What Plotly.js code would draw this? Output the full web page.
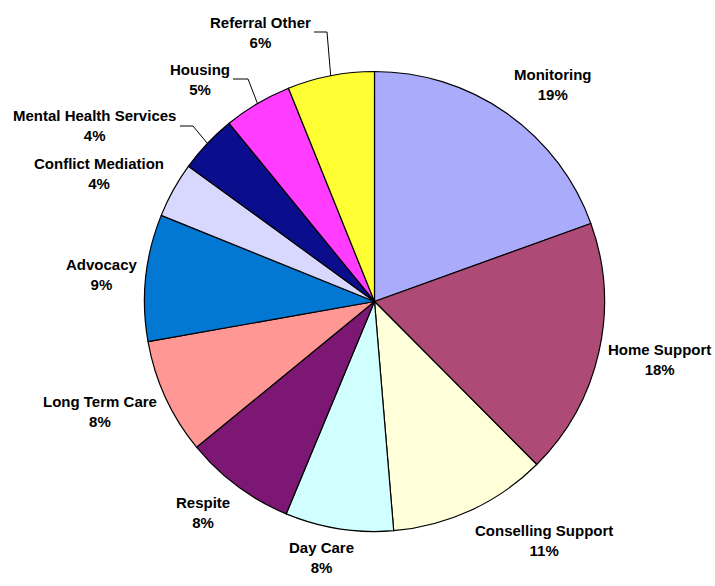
<!DOCTYPE html>
<html>
<head>
<meta charset="utf-8">
<script src="https://cdn.plot.ly/plotly-3.0.1.min.js"></script>
<style>html,body{margin:0;padding:0;background:#fff;}#chart{width:715px;height:586px;}</style>
</head>
<body>
<div id="chart"></div>
<script>
// ---- data ----
const categories = ["Monitoring", "Home Support", "Conselling Support", "Day Care", "Respite",
  "Long Term Care", "Advocacy", "Conflict Mediation", "Mental Health Services", "Housing", "Referral Other"];
const shares = [19.49, 18.05, 11.13, 7.6, 7.81, 8.13, 8.9, 3.9, 4.1, 4.79, 6.1];

// ---- styles / layout ----
const colors = ["#AAACFB", "#AE4A76", "#FFFFD9", "#D1FFFF", "#7C1774", "#FF9895",
  "#0278D3", "#D8D8FF", "#0B0E8C", "#FF3CFF", "#FFFF33"];
const W = 715, H = 586;
const cx = 374.5, cy = 301.5, R = 230;
// label centres in pixels
const labelPos = [[552, 84], [659, 359], [544, 540], [321, 557], [203, 512], [100, 411],
  [102, 274], [99, 173], [94, 126], [200, 79], [260, 33]];
// leader lines: [index, startX, elbowX, y]
const leaders = [[10, 314, 327, 32], [9, 233, 248, 79], [8, 180, 193, 126]];

const px = x => x / W, py = y => 1 - y / H;
const total = shares.reduce((a, b) => a + b, 0);

const trace = {
  type: "pie",
  labels: categories,
  values: shares,
  sort: false,
  direction: "clockwise",
  rotation: 0,
  marker: { colors: colors, line: { color: "#000", width: 1.2 } },
  textinfo: "none",
  hoverinfo: "label+percent",
  domain: { x: [px(cx - R), px(cx + R)], y: [py(cy + R), py(cy - R)] },
  showlegend: false
};

const annotations = categories.map((c, i) => ({
  xref: "paper", yref: "paper",
  x: px(labelPos[i][0]), y: py(labelPos[i][1]),
  xanchor: "center", yanchor: "middle", align: "center",
  showarrow: false,
  text: "<b>" + c + "<br>" + Math.round(shares[i] / total * 100) + "%</b>",
  font: { family: "Liberation Sans, Arial, sans-serif", size: 15, color: "#000" }
}));

// cumulative mid angles for leader end points
const cum = [];
let acc = 0;
shares.forEach(v => { cum.push(acc + v / 2); acc += v; });
const shapes = leaders.map(([i, sx, ex, y]) => {
  const ang = cum[i] / total * 2 * Math.PI;
  const edgeX = cx + R * Math.sin(ang), edgeY = cy - R * Math.cos(ang);
  return {
    type: "path", xref: "paper", yref: "paper",
    path: `M ${px(sx)} ${py(y)} L ${px(ex)} ${py(y)} L ${px(edgeX)} ${py(edgeY)}`,
    line: { color: "#000", width: 1 }
  };
});

const layout = {
  width: W, height: H,
  margin: { l: 0, r: 0, t: 0, b: 0 },
  paper_bgcolor: "#fff", plot_bgcolor: "#fff",
  showlegend: false,
  annotations: annotations,
  shapes: shapes
};

Plotly.newPlot("chart", [trace], layout, { staticPlot: true, displayModeBar: false });
</script>
</body>
</html>
